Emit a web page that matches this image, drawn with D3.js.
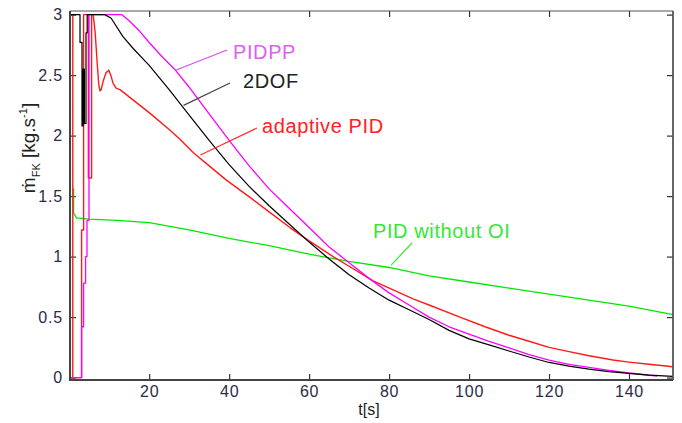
<!DOCTYPE html>
<html>
<head>
<meta charset="utf-8">
<script src="https://cdn.jsdelivr.net/npm/d3@7/dist/d3.min.js"></script>
<style>
  html, body { margin: 0; padding: 0; background: #fff; }
  svg { display: block; }
  text { font-family: "Liberation Sans", Arial, sans-serif; }
</style>
</head>
<body>
<svg id="chart" width="682" height="423"></svg>
<script>
// Mass flow response [t (s), mass flow (kg/s)] for each controller
const seriesPIDPP = [
  [0.2, 0], [3.1, 0], [3.1, 0.42], [3.6, 0.42], [3.6, 0.78], [4.1, 0.78], [4.1, 1.0],
  [4.45, 1.0], [4.45, 1.3], [4.95, 1.3], [4.95, 3], [13.2, 3], [15, 2.95], [17.7, 2.86],
  [20, 2.77], [23, 2.66], [26.6, 2.54], [30, 2.4], [35, 2.18], [40, 1.96], [45, 1.75],
  [50, 1.56], [55, 1.4], [60, 1.24], [65, 1.08], [70, 0.95], [75, 0.82], [80, 0.7],
  [85, 0.6], [90, 0.5], [95, 0.42], [100, 0.36], [105, 0.3], [110, 0.245], [115, 0.19],
  [120, 0.145], [125, 0.11], [130, 0.085], [135, 0.06], [140, 0.038], [147, 0.013]
];

const series2DOF = [
  [0.2, 3], [2.7, 3], [2.7, 2.77], [3.2, 2.77], [3.2, 2.08], [3.5, 2.08], [3.5, 2.55],
  [3.8, 2.55], [3.8, 2.1], [4.2, 2.1], [4.2, 2.85], [4.5, 2.85], [4.5, 3], [8.9, 3],
  [10.5, 2.97], [13.4, 2.82], [16, 2.72], [20, 2.58], [25, 2.38], [30, 2.17], [35, 1.96],
  [40, 1.76], [45, 1.58], [50, 1.42], [55, 1.27], [60, 1.12], [65, 0.98], [70, 0.85],
  [75, 0.74], [80, 0.64], [85, 0.56], [90, 0.48], [95, 0.39], [100, 0.32], [105, 0.27],
  [110, 0.22], [115, 0.17], [120, 0.125], [125, 0.095], [130, 0.07], [135, 0.05],
  [140, 0.035], [145, 0.02], [151, 0.01]
];

const seriesAdaptive = [
  [0.2, 3], [0.9, 3], [0.9, 0], [3.1, 0], [3.1, 1.22], [3.6, 1.22], [3.6, 3], [4.8, 3],
  [4.8, 1.65], [5.6, 1.65], [5.6, 3], [6.0, 3], [6.5, 2.85], [7.0, 2.6], [7.4, 2.42],
  [7.7, 2.37], [8.0, 2.38], [8.5, 2.45], [9.2, 2.52], [9.9, 2.54], [10.4, 2.5], [11, 2.43],
  [11.8, 2.39], [12.7, 2.38], [15, 2.32], [20, 2.19], [25, 2.05], [27.7, 1.97],
  [31, 1.86], [35, 1.75], [39.4, 1.63], [45.2, 1.49], [50, 1.37], [55.2, 1.24], [60, 1.13],
  [66, 1.0], [70, 0.92], [76, 0.8], [82, 0.71], [86, 0.65], [90, 0.6], [97.7, 0.5],
  [104, 0.42], [110, 0.35], [115, 0.3], [120, 0.25], [125, 0.215], [130, 0.18],
  [136, 0.145], [140, 0.128], [145, 0.11], [151, 0.09]
];

const seriesNoOI = [
  [0.9, 1.56], [1.1, 1.56], [1.1, 1.36], [1.8, 1.32], [5, 1.31], [12, 1.3], [20, 1.28],
  [30, 1.22], [40, 1.15], [50, 1.09], [60, 1.02], [65, 0.99], [70, 0.96], [80, 0.91],
  [90, 0.84], [100, 0.79], [110, 0.74], [120, 0.69], [130, 0.64], [140, 0.59], [151, 0.52]
];

const xTicks = [20, 40, 60, 80, 100, 120, 140];
const yTicks = [0, 0.5, 1, 1.5, 2, 2.5, 3];
const yTickLabels = ["0", "0.5", "1", "1.5", "2", "2.5", "3"];

// Plot frame
const frameL = 70, frameR = 673, frameT = 11, frameB = 380;

const svg = d3.select("#chart");
const x = d3.scaleLinear().domain([0.2, 151]).range([frameL, frameR]);
const y = d3.scaleLinear().domain([-0.02, 3.03]).range([frameB, frameT]);

const tickColor = "#2b2b48";

// Bottom axis with inward ticks
const gx = svg.append("g").attr("transform", `translate(0,${frameB})`)
  .call(d3.axisBottom(x).tickValues(xTicks).tickSizeInner(-6).tickSizeOuter(0).tickPadding(6));
// Top axis: ticks only
const gxt = svg.append("g").attr("transform", `translate(0,${frameT})`)
  .call(d3.axisTop(x).tickValues(xTicks).tickSizeInner(-6).tickSizeOuter(0).tickFormat(""));
// Left axis
const gy = svg.append("g").attr("transform", `translate(${frameL},0)`)
  .call(d3.axisLeft(y).tickValues(yTicks).tickSizeInner(-6).tickSizeOuter(0).tickPadding(7)
    .tickFormat((d, i) => yTickLabels[i]));
// Right axis: ticks only
const gyr = svg.append("g").attr("transform", `translate(${frameR},0)`)
  .call(d3.axisRight(y).tickValues(yTicks).tickSizeInner(-6).tickSizeOuter(0).tickFormat(""));

[gx, gxt, gy, gyr].forEach(g => {
  g.select(".domain").remove();
  g.selectAll(".tick line").attr("stroke", "#333").attr("stroke-width", 1.2);
  g.selectAll(".tick text").attr("fill", tickColor).attr("font-size", 16)
    .attr("font-family", "'Liberation Sans', Arial, sans-serif").attr("letter-spacing", 0.8);
});

// Curves
const line = d3.line().x(d => x(d[0])).y(d => y(d[1]));
const curves = [
  { data: seriesNoOI, color: "#00e800", width: 1.3 },
  { data: seriesAdaptive, color: "#ff1a1a", width: 1.4 },
  { data: seriesPIDPP, color: "#ff00ff", width: 1.3 },
  { data: series2DOF, color: "#000000", width: 1.2 }
];
const plot = svg.append("g");
curves.forEach(c => {
  plot.append("path").datum(c.data).attr("d", line)
    .attr("fill", "none").attr("stroke", c.color).attr("stroke-width", c.width)
    .attr("stroke-linejoin", "round");
});

// Frame
svg.append("line").attr("x1", frameL).attr("x2", frameR).attr("y1", frameT).attr("y2", frameT)
  .attr("stroke", "#555").attr("stroke-width", 1.2);
svg.append("line").attr("x1", frameR).attr("x2", frameR).attr("y1", frameT).attr("y2", frameB)
  .attr("stroke", "#555").attr("stroke-width", 1.8);
svg.append("line").attr("x1", frameL).attr("x2", frameL).attr("y1", frameT).attr("y2", frameB + 1)
  .attr("stroke", "#444").attr("stroke-width", 2);
svg.append("line").attr("x1", frameL).attr("x2", frameR).attr("y1", frameB).attr("y2", frameB)
  .attr("stroke", "#444").attr("stroke-width", 2);

// Curve annotations with pointer lines
const notes = [
  { text: "PIDPP", color: "#dd60ee", lc: "#d050f0", tx: 233, ty: 59, at: [26.6, 2.54], end: [227, 50] },
  { text: "2DOF", color: "#222222", lc: "#444444", tx: 243, ty: 88, at: [28.6, 2.25], end: [230, 83] },
  { text: "adaptive PID", color: "#ff2020", lc: "#ff3030", tx: 262, ty: 133, at: [32.8, 1.84], end: [257, 128] },
  { text: "PID without OI", color: "#33e833", lc: "#33e833", tx: 373, ty: 238, at: [80.5, 0.93], end: [412, 243] }
];
notes.forEach(n => {
  svg.append("line").attr("x1", x(n.at[0])).attr("y1", y(n.at[1]))
    .attr("x2", n.end[0]).attr("y2", n.end[1])
    .attr("stroke", n.lc).attr("stroke-width", 1.2);
  svg.append("text").attr("x", n.tx).attr("y", n.ty).attr("fill", n.color)
    .attr("font-size", 20).attr("letter-spacing", 0.6).text(n.text);
});

// Axis titles
svg.append("text").attr("x", 369).attr("y", 415).attr("text-anchor", "middle")
  .attr("fill", "#222").attr("font-size", 16).text("t[s]");

const yl = svg.append("text").attr("transform", "translate(35,148) rotate(-90)")
  .attr("text-anchor", "middle").attr("fill", "#222").attr("font-size", 19);
yl.append("tspan").text("\u1E41");
yl.append("tspan").attr("font-size", 11).attr("dy", 5).text("FK");
yl.append("tspan").attr("dy", -5).text(" [kg.s");
yl.append("tspan").attr("font-size", 11).attr("dy", -8).text("-1");
yl.append("tspan").attr("dy", 8).text("]");
</script>
</body>
</html>
